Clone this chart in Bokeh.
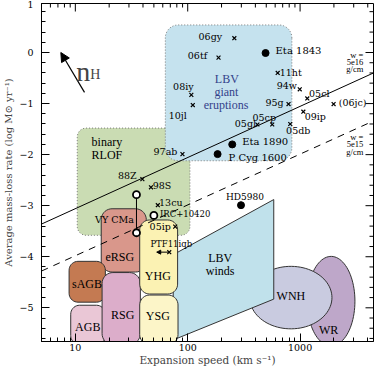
import numpy as np
from bokeh.plotting import figure
from bokeh.models import (ColumnDataSource, FixedTicker, Arrow, NormalHead, Label)
from bokeh.embed import file_html
from bokeh.resources import INLINE
from bokeh.core.properties import value

# ---------------- data ----------------
# rounded-box regions (expansion speed in km/s, log mass-loss rate)
box_names = ["binary RLOF", "LBV giant eruptions", "eRSG", "sAGB", "AGB", "RSG", "YHG", "YSG"]
box_v_lo = [10.4, 63.2, 17.0, 8.8, 9.1, 17.3, 37.4, 37.4]
box_v_hi = [104.7, 845.0, 42.8, 18.5, 18.5, 37.9, 81.3, 82.0]
box_m_lo = [-3.58, -2.12, -4.30, -4.89, -5.72, -5.72, -4.73, -5.72]
box_m_hi = [-1.48, 0.54, -3.06, -4.09, -4.95, -4.31, -3.28, -4.75]

# LBV winds polygon
lbvw_v = [74.3, 583.0, 583.0, 74.3]
lbvw_m = [-3.96, -2.88, -4.83, -5.63]

# elliptical regions (centre speed, centre log Mdot, width in dex, height in dex)
ell_names = ["WR", "WNH"]
ell_v_c = [1888.0, 828.0]
ell_m_c = [-4.87, -4.80]
ell_w_dex = [0.424, 0.731]
ell_h_dex = [1.754, 1.224]

# constant wind density lines (w = Mdot / v)
w16_v = [5.0, 4500.0]
w16_m = [-3.36, -0.40]
w15_v = [5.0, 4500.0]
w15_m = [-4.28, -1.34]

# supernovae (crosses)
sn_names = ["06gy", "06tf", "11ht", "94w", "05cl", "(06jc)", "95g", "09ip", "05cp", "05gl",
            "05db", "08iy", "10jl", "97ab", "88Z", "98S", "13cu", "05ip", "PTF11iqb"]
sn_v = [260, 188, 632, 993, 1159, 1987, 789, 1069, 565, 417,
        817, 107.7, 111, 89.8, 39.5, 47.1, 54.2, 77.4, 68.5]
sn_m = [0.28, -0.10, -0.40, -0.72, -0.90, -1.01, -1.01, -1.16, -1.41, -1.41,
        -1.40, -0.83, -1.03, -1.99, -2.48, -2.64, -2.99, -3.41, -3.91]

# LBV eruptions (filled dots)
dot_names = ["Eta 1843", "Eta 1890", "P Cyg 1600", "HD5980"]
dot_v = [493, 249, 184.5, 298]
dot_m = [-0.01, -1.80, -1.99, -2.99]

# open circles
oc_names = ["IRC+10420", "VY CMa", "VY CMa"]
oc_v = [50.0, 35.0, 35.0]
oc_m = [-3.19, -2.785, -3.53]

x_lo, x_hi = 5, 4500
y_lo, y_hi = -5.66, 0.96
x_major = [10, 100, 1000]
x_labels = ["10", "100", "1000"]
x_minor = [5, 6, 7, 8, 9, 20, 30, 40, 50, 60, 70, 80, 90,
           200, 300, 400, 500, 600, 700, 800, 900, 2000, 3000, 4000]
y_major = [-5, -4, -3, -2, -1, 0]
y_labels = ["\u22125", "\u22124", "\u22123", "\u22122", "\u22121", "0"]
y_top_label = "1"
y_minor = [round(v, 1) for v in np.arange(-5.6, 0.81, 0.2) if abs(v - round(v)) > 1e-6]

# ---------------- styling / layout ----------------
PXX, PXY = 114.0, 51.4   # approximate screen px per dex / per unit, for round corners
SERIF = "Liberation Serif"
MONO = "DejaVu Serif"

box_style = {
    "binary RLOF": dict(color="#cadcb3", line="#7a7a7a", dash="1 2", r=9),
    "LBV giant eruptions": dict(color="#c5e2ee", line="#7a7a7a", dash="1 2", r=13),
    "eRSG": dict(color="#d9978b", line="#333333", dash="solid", r=11),
    "sAGB": dict(color="#c47a52", line="#333333", dash="solid", r=9),
    "AGB": dict(color="#eac7d6", line="#333333", dash="solid", r=9),
    "RSG": dict(color="#dcadca", line="#333333", dash="solid", r=11),
    "YHG": dict(color="#fbf2b3", line="#333333", dash="solid", r=10),
    "YSG": dict(color="#fcf5c8", line="#333333", dash="solid", r=10),
}


def rounded_box(v0, v1, m0, m1, r, n=10):
    u0, u1 = np.log10(v0) * PXX, np.log10(v1) * PXX
    w0, w1 = m0 * PXY, m1 * PXY
    corners = [(u1 - r, w1 - r, 0), (u0 + r, w1 - r, 90), (u0 + r, w0 + r, 180), (u1 - r, w0 + r, 270)]
    us, ws = [], []
    for cu, cw, a0 in corners:
        for t in np.linspace(a0, a0 + 90, n):
            us.append(cu + r * np.cos(np.radians(t)))
            ws.append(cw + r * np.sin(np.radians(t)))
    return list(10 ** (np.array(us) / PXX)), list(np.array(ws) / PXY)


def ellipse(vc, mc, wdex, h, n=90):
    t = np.linspace(0, 2 * np.pi, n)
    return list(10 ** (np.log10(vc) + wdex / 2 * np.cos(t))), list(mc + h / 2 * np.sin(t))


p = figure(width=375, height=368, x_axis_type="log", x_range=(x_lo, x_hi), y_range=(y_lo, y_hi),
           output_backend="svg", toolbar_location=None,
           min_border_left=36, min_border_right=2, min_border_top=3, min_border_bottom=22)
p.xgrid.visible = False
p.ygrid.visible = False
p.outline_line_color = "black"
p.outline_line_alpha = 1.0
p.background_fill_color = "white"


def draw_box(name):
    i = box_names.index(name)
    st = box_style[name]
    xs, ys = rounded_box(box_v_lo[i], box_v_hi[i], box_m_lo[i], box_m_hi[i], st["r"])
    p.patch(xs, ys, fill_color=st["color"], line_color=st["line"], line_dash=st["dash"], line_width=1)


def draw_ell(name, color):
    i = ell_names.index(name)
    xs, ys = ellipse(ell_v_c[i], ell_m_c[i], ell_w_dex[i], ell_h_dex[i])
    p.patch(xs, ys, fill_color=color, line_color="#333333", line_width=1)


draw_box("binary RLOF")
draw_box("LBV giant eruptions")
draw_box("eRSG")
draw_box("sAGB")
draw_box("AGB")
draw_box("RSG")
draw_ell("WR", "#bea7c9")
draw_ell("WNH", "#c9cbe0")
p.patch(lbvw_v, lbvw_m, fill_color="#c0e1eb", line_color="#333333", line_width=1)
draw_box("YHG")
draw_box("YSG")

# constant-w lines
p.line(w16_v, w16_m, line_color="black", line_width=1)
p.line(w15_v, w15_m, line_color="black", line_width=1, line_dash="7 6")

# VY CMa connector
p.line([oc_v[1], oc_v[2]], [oc_m[1], oc_m[2]], line_color="black", line_width=1)

# PTF11iqb arrow
p.add_layout(Arrow(x_start=68.5, y_start=-3.91, x_end=53.0, y_end=-3.91, line_width=1,
                   end=NormalHead(size=4, fill_color="black", line_color="black")))
# n_H arrow
p.add_layout(Arrow(x_start=12.07, y_start=-0.78, x_end=7.43, y_end=0.0, line_width=1.2,
                   end=NormalHead(size=9, fill_color="black", line_color="black")))

# markers
p.scatter(sn_v, sn_m, marker="x", size=5.5, line_color="black", line_width=1.2)
p.scatter(dot_v, dot_m, marker="circle", size=7, fill_color="black", line_color="black")
p.scatter(oc_v, oc_m, marker="circle", size=7, fill_color="white", line_color="black", line_width=1.8)

# SN labels (pixel offsets from markers)
sn_off = {"06gy": (-24, -2), "06tf": (-21, -2), "11ht": (13, 0), "94w": (-13, -4),
          "05cl": (12, -5), "(06jc)": (19, -2), "95g": (-14, -2), "09ip": (12, 5),
          "05cp": (-8, -7), "05gl": (-12, -1), "05db": (8, 7), "08iy": (-8, -8),
          "10jl": (-15, 10), "97ab": (-17, -3), "88Z": (-15, -4), "98S": (11, -2),
          "13cu": (13, -3), "05ip": (-15, 0), "PTF11iqb": (2, -8)}
sn_fs = {"PTF11iqb": "8.5px"}
src = ColumnDataSource(dict(x=sn_v, y=sn_m, t=sn_names,
                            dx=[sn_off[n][0] for n in sn_names], dy=[sn_off[n][1] for n in sn_names],
                            fs=[sn_fs.get(n, "9.5px") for n in sn_names]))
p.text("x", "y", text="t", source=src, x_offset="dx", y_offset="dy", text_font_size="fs",
       text_font=value(MONO), text_align="center", text_baseline="middle", text_color="black")

dot_off = {"Eta 1843": (10, -3, "left", "10px"), "Eta 1890": (10, -3, "left", "10px"),
           "P Cyg 1600": (11, 3, "left", "10px"), "HD5980": (4, -8, "center", "9px")}
src = ColumnDataSource(dict(x=dot_v, y=dot_m, t=dot_names,
                            dx=[dot_off[n][0] for n in dot_names], dy=[dot_off[n][1] for n in dot_names],
                            al=[dot_off[n][2] for n in dot_names], fs=[dot_off[n][3] for n in dot_names]))
p.text("x", "y", text="t", source=src, x_offset="dx", y_offset="dy", text_font_size="fs",
       text_font=value(MONO), text_align="al", text_baseline="middle", text_color="black")

# open circle labels
p.text([oc_v[0]], [oc_m[0]], text=[oc_names[0]], x_offset=6, y_offset=-1, text_font=value(MONO),
       text_font_size="8.5px", text_align="left", text_baseline="middle")
p.text([oc_v[2]], [oc_m[2]], text=[oc_names[2]], x_offset=-22, y_offset=-13, text_font=value(MONO),
       text_font_size="9.5px", text_align="center", text_baseline="middle")

# region labels
reg_t = ["LBV", "giant", "eruptions", "binary", "RLOF", "eRSG", "sAGB", "RSG", "AGB", "YHG", "YSG",
         "LBV", "winds", "WNH", "WR"]
reg_x = [223, 221, 219, 19.1, 19.1, 24.9, 12.7, 26.4, 12.9, 54.2, 54.2, 194.5, 194.5, 828, 1795]
reg_y = [-0.51, -0.78, -1.03, -1.75, -2.0, -4.0, -4.54, -5.15, -5.38, -4.38, -5.16, -4.02, -4.28, -4.76, -5.44]
reg_c = ["#33418a"] * 3 + ["black"] * 12
p.text(reg_x, reg_y, text=reg_t, text_color=reg_c, text_font=value(SERIF), text_font_size="12px",
       text_align="center", text_baseline="middle")

# w labels
p.text([3650] * 6, [-0.04, -0.18, -0.33, -1.66, -1.80, -1.95],
       text=["w =", "5e16", "g/cm", "w =", "5e15", "g/cm"],
       text_font=value(SERIF), text_font_size="8.5px", text_align="right", text_baseline="middle")

# n_H
p.add_layout(Label(x=10.2, y=-0.367, text="n", text_font=SERIF, text_font_size="28px",
                   text_baseline="alphabetic"))
p.add_layout(Label(x=13.6, y=-0.43, text="H", text_font=SERIF, text_font_size="14px",
                   text_baseline="alphabetic"))

# mirrored inward ticks on the top and right frame edges
p.scatter([x_hi] * len(y_major), y_major, marker="dash", size=16, line_color="black", line_width=1)
p.scatter([x_hi] * len(y_minor), y_minor, marker="dash", size=8, line_color="black", line_width=1)
p.scatter(x_major, [y_hi] * len(x_major), marker="dash", angle=np.pi / 2, size=16,
          line_color="black", line_width=1)
p.scatter(x_minor, [y_hi] * len(x_minor), marker="dash", angle=np.pi / 2, size=8,
          line_color="black", line_width=1)

# ---------------- axes ----------------
def style_axis(ax):
    ax.axis_line_color = "black"
    ax.major_tick_in = 8
    ax.major_tick_out = 0
    ax.minor_tick_in = 4
    ax.minor_tick_out = 0
    ax.major_tick_line_color = "black"
    ax.minor_tick_line_color = "black"
    ax.major_label_text_font = MONO
    ax.major_label_text_color = "black"
    ax.major_label_text_font_size = "9.5px"


xa = p.xaxis[0]
xa.ticker = FixedTicker(ticks=x_major, minor_ticks=x_minor)
style_axis(xa)
xa.major_label_standoff = 2
xa.major_label_overrides = {v: s for v, s in zip(x_major, x_labels)}
xa.axis_label = "Expansion speed (km s\u207b\u00b9)"
xa.axis_label_text_font = MONO
xa.axis_label_text_font_size = "10.5px"
xa.axis_label_text_font_style = "normal"
xa.axis_label_standoff = 0

# the top "1" label sits on the upper frame edge
ya = p.yaxis[0]
ya.ticker = FixedTicker(ticks=y_major + [y_hi], minor_ticks=y_minor)
style_axis(ya)
ya.major_label_standoff = 8
ya.major_label_overrides = {v: s for v, s in zip(y_major + [y_hi], y_labels + [y_top_label])}
ya.axis_label = "Average mass-loss rate (log M\u2299 yr\u207b\u00b9)"
ya.axis_label_text_font = MONO
ya.axis_label_text_font_size = "10px"
ya.axis_label_text_font_style = "normal"
ya.axis_label_standoff = 2

open("out.html", "w").write(file_html(p, INLINE))
